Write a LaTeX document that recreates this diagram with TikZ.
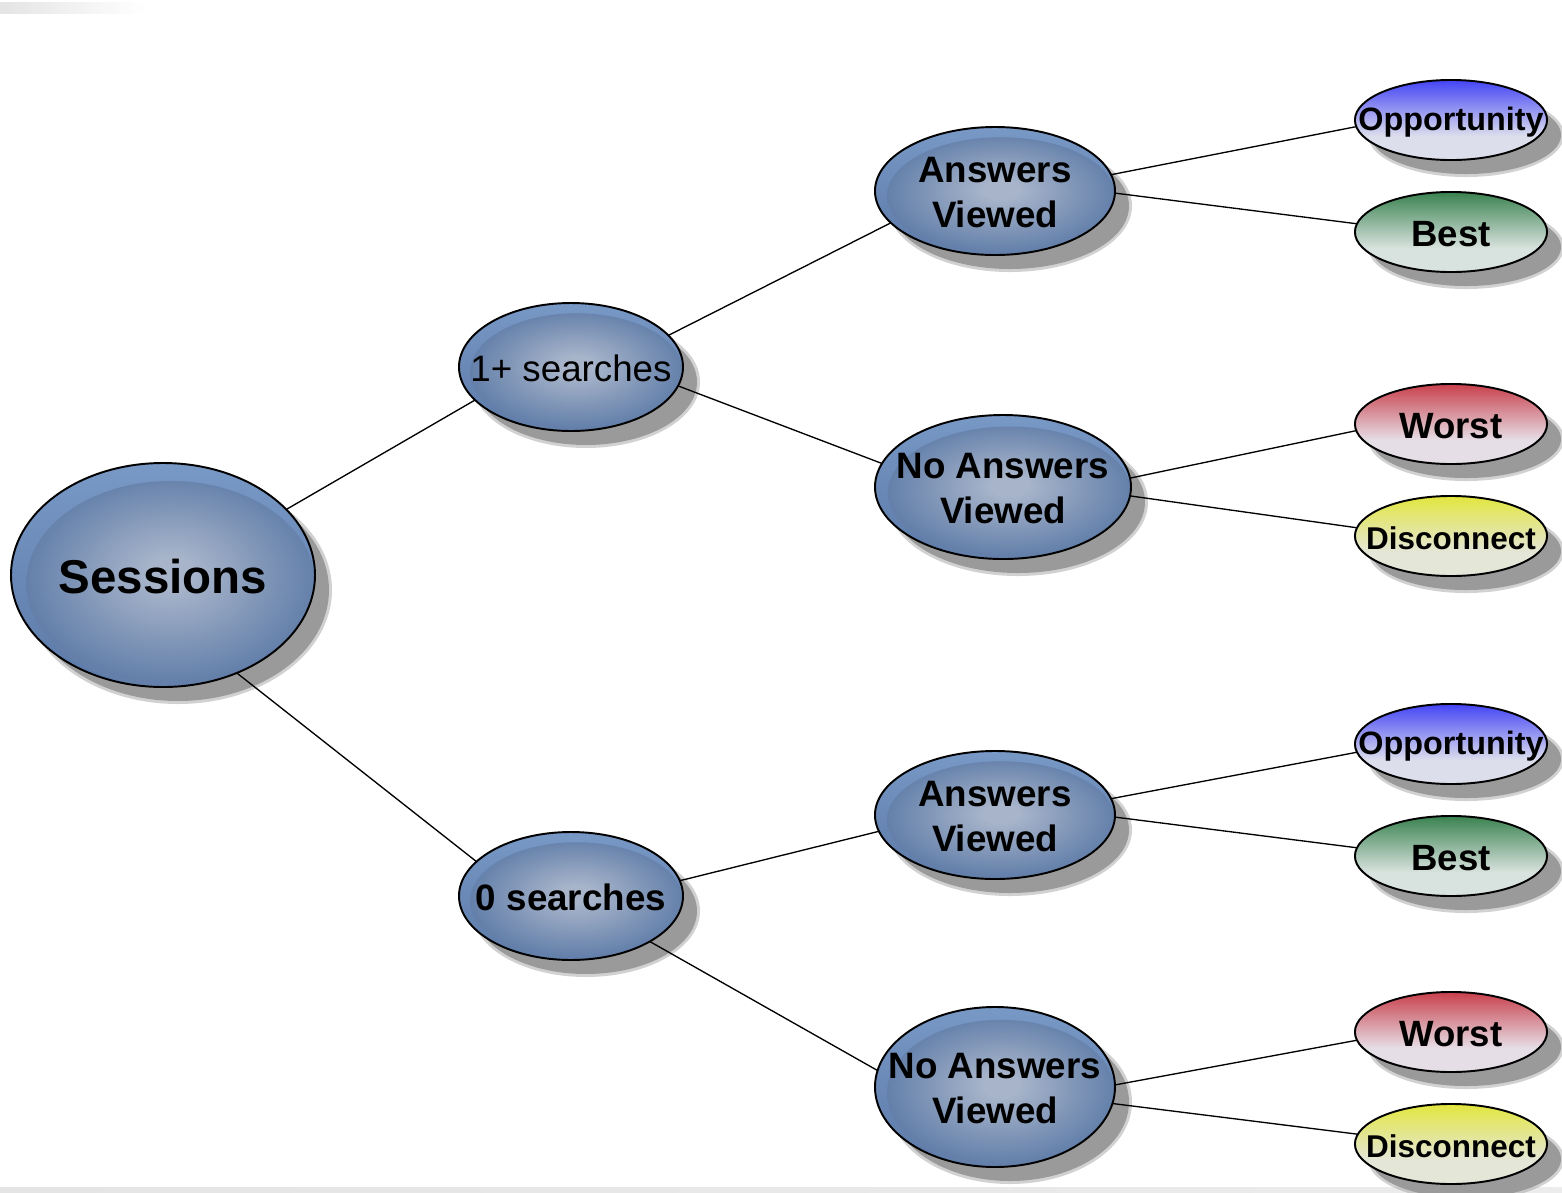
\documentclass[tikz,border=0pt]{standalone}
\usepackage{fontspec}
\setmainfont{Liberation Sans}
\usetikzlibrary{shapes.geometric}

\definecolor{rimA}{HTML}{7898C6}
\definecolor{rimB}{HTML}{5C7AA8}
\definecolor{binA}{HTML}{A7B4CA}
\definecolor{binB}{HTML}{6480AA}
\definecolor{shadowc}{HTML}{9A9A9A}
\definecolor{oppA}{HTML}{4444F6}
\definecolor{oppB}{HTML}{DCDEEC}
\definecolor{bestA}{HTML}{3A8250}
\definecolor{bestB}{HTML}{D8E2DE}
\definecolor{worstA}{HTML}{C8404C}
\definecolor{worstB}{HTML}{E6DEE6}
\definecolor{discA}{HTML}{E2E63E}
\definecolor{discB}{HTML}{E4E6D8}
\definecolor{barc}{HTML}{E4E4E4}

\pgfdeclareradialshading{bubin}{\pgfpoint{0bp}{3bp}}{color(0bp)=(binA); color(4bp)=(binA); color(25bp)=(binB); color(50bp)=(binB)}
\pgfdeclareverticalshading{oppsh}{100bp}{color(0bp)=(oppB); color(25bp)=(oppB); color(40bp)=(oppB); color(75bp)=(oppA); color(100bp)=(oppA)}
\pgfdeclareverticalshading{bestsh}{100bp}{color(0bp)=(bestB); color(25bp)=(bestB); color(40bp)=(bestB); color(75bp)=(bestA); color(100bp)=(bestA)}
\pgfdeclareverticalshading{worstsh}{100bp}{color(0bp)=(worstB); color(25bp)=(worstB); color(40bp)=(worstB); color(75bp)=(worstA); color(100bp)=(worstA)}
\pgfdeclareverticalshading{discsh}{100bp}{color(0bp)=(discB); color(25bp)=(discB); color(40bp)=(discB); color(75bp)=(discA); color(100bp)=(discA)}

\tikzset{
  bluenode/.style={ellipse, inner sep=0pt, outer sep=0pt, top color=rimA, bottom color=rimB},
  leafnode/.style={ellipse, minimum width=1.92cm, minimum height=0.80cm, inner sep=0pt, outer sep=0pt, draw=black, line width=0.55pt},
  bubborder/.style={draw=black, line width=0.55pt},
  lbl/.style={inner sep=0pt, align=center, text=black},
  conn/.style={draw=black, line width=0.38pt},
  midbold/.style={font=\bfseries\fontsize{10.45}{12.6}\selectfont},
  midreg/.style={font=\fontsize{10.45}{12.6}\selectfont},
  bigbold/.style={font=\bfseries\fontsize{13.5}{16}\selectfont},
}

% name, x, y, rx, ry, text style, text
\newcommand\bluebub[7]{%
  \fill[shadowc, opacity=0.45] (#2+15,#3+15) ellipse [x radius=(#4+2)*0.01cm, y radius=(#5+2)*0.01cm];
  \fill[shadowc] (#2+15,#3+15) ellipse [x radius=(#4-1)*0.01cm, y radius=(#5-1)*0.01cm];
  \node[bluenode, minimum width=#4*0.02cm, minimum height=#5*0.02cm] (#1) at (#2,#3) {};
  \begin{scope}
    \clip (#2,#3) ellipse [x radius=#4*0.01cm, y radius=#5*0.01cm];
    \shade[shading=bubin] (#2+0.05*#4,#3+0.08*#5) ellipse [x radius=0.95*#4*0.01cm, y radius=0.92*#5*0.01cm];
  \end{scope}
  \draw[bubborder] (#2,#3) ellipse [x radius=#4*0.01cm, y radius=#5*0.01cm];
  \node[lbl, #6, yshift=-0.015cm] (#1t) at (#1.center) {#7};
}
% name, x, y, shading, text, size
\newcommand\leafbub[6]{%
  \fill[shadowc, opacity=0.45] (#2+15,#3+15) ellipse [x radius=0.98cm, y radius=0.42cm];
  \fill[shadowc] (#2+15,#3+15) ellipse [x radius=0.95cm, y radius=0.39cm];
  \node[leafnode, shade, shading=#4] (#1) at (#2,#3) {};
  \node[lbl, font=\bfseries\fontsize{#6}{#6}\selectfont, yshift=-0.02cm] (#1t) at (#1.center) {#5};
}

\begin{document}
\begin{tikzpicture}[x=0.01cm, y=-0.01cm]
\fill[white] (0,0) rectangle (1562,1193);
\useasboundingbox (0,0) rectangle (1562,1193);
\fill[left color=barc, right color=white] (0,2) rectangle (145,13);
\fill[left color=barc, right color=barc!70!white] (0,1187) rectangle (1562,1193);

\bluebub{s}{163}{575}{152}{112}{bigbold}{Sessions}
\bluebub{p1}{571}{367}{112}{64}{midreg}{1+ searches}
\bluebub{p0}{571}{896}{112}{64}{midbold}{0 searches}
\bluebub{a1}{995}{191}{120}{64}{midbold}{Answers\\Viewed}
\bluebub{n1}{1003}{487}{128}{72}{midbold}{No Answers\\Viewed}
\bluebub{a0}{995}{815}{120}{64}{midbold}{Answers\\Viewed}
\bluebub{n0}{995}{1087}{120}{80}{midbold}{No Answers\\Viewed}

\leafbub{o1}{1451}{120}{oppsh}{Opportunity}{9.2}
\leafbub{b1}{1451}{232}{bestsh}{Best}{10.4}
\leafbub{w1}{1451}{424}{worstsh}{Worst}{10.4}
\leafbub{d1}{1451}{536}{discsh}{Disconnect}{8.95}
\leafbub{o0}{1451}{744}{oppsh}{Opportunity}{9.2}
\leafbub{b0}{1451}{856}{bestsh}{Best}{10.4}
\leafbub{w0}{1451}{1032}{worstsh}{Worst}{10.4}
\leafbub{d0}{1451}{1144}{discsh}{Disconnect}{8.95}

\draw[conn] (s.28) -- (p1.199);
\draw[conn] (s.-53) -- (p0.160);
\draw[conn] (p1.18) -- (a1.197);
\draw[conn] (p1.-10) -- (n1.169);
\draw[conn] (p0.8) -- (a0.188);
\draw[conn] (p0.-30) -- (n0.172);
\draw[conn] (a1.8) -- (o1.184);
\draw[conn] (a1.-1) -- (b1.175);
\draw[conn] (n1.4) -- (w1.184);
\draw[conn] (n1.-4) -- (d1.175);
\draw[conn] (a0.8) -- (o0.185);
\draw[conn] (a0.-1) -- (b0.175);
\draw[conn] (n0.1) -- (w0.185);
\draw[conn] (n0.-8) -- (d0.174);
\end{tikzpicture}
\end{document}
